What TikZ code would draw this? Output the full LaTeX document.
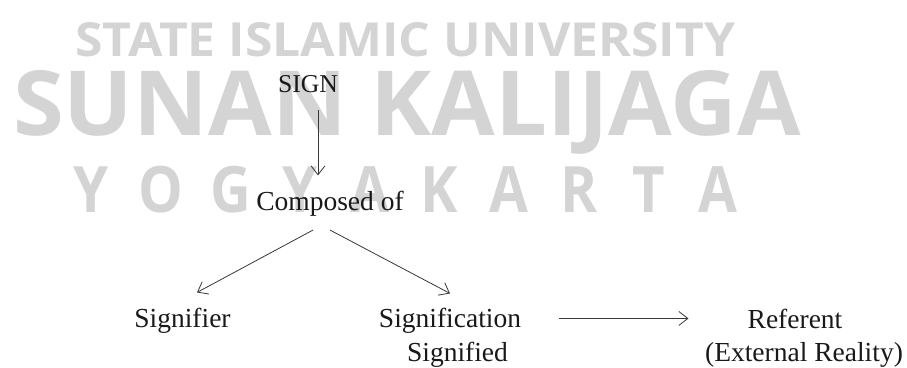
\documentclass[tikz,border=0pt]{standalone}
\usepackage{graphicx}
\usepackage{fontspec}
\setmainfont{Liberation Serif}
\newfontfamily\wmfont{Open Sans}
\usetikzlibrary{arrows.meta}
\definecolor{wm}{RGB}{212,212,212}
\definecolor{ink}{RGB}{25,25,25}
\definecolor{arr}{RGB}{55,55,55}
\begin{document}
\begin{tikzpicture}[x=1pt,y=-1pt,
  lbl/.style={anchor=base, inner sep=0pt, text=ink, font=\fontsize{27.5}{33}\selectfont},
  conn/.style={draw=arr, line width=0.8pt, -{Straight Barb[length=9pt,width=14pt]}},
  wmtext/.style={anchor=base west, inner sep=0pt, text=wm}]
\useasboundingbox (0,0) rectangle (907,367);
% watermark
\node[wmtext] (wm1) at (75,56) {\resizebox{660pt}{34pt}{\wmfont\bfseries STATE ISLAMIC UNIVERSITY}};
\node[wmtext] (wm2) at (13,135) {\resizebox{787pt}{65pt}{\wmfont\bfseries SUNAN KALIJAGA}};
\foreach \l [count=\i from 0] in {Y,O,G,Y,A,K,A,R,T,A}
  \node[wmtext, anchor=base] (wy\i) at (91+\i*69.7,212) {\scalebox{0.88}[1]{\wmfont\bfseries\fontsize{64}{70}\selectfont \l}};
% diagram
\node[lbl, font=\fontsize{25.7}{30}\selectfont] (sign) at (308,92) {SIGN};
\node[lbl] (comp) at (330,210) {Composed of};
\node[lbl] (sfr) at (182.5,327) {Signifier};
\node[lbl] (sfc) at (450,327) {Signification};
\node[lbl] (sfd) at (457.5,361) {Signified};
\node[lbl] (ref) at (795,328) {Referent};
\node[lbl] (ext) at (804,361) {(External Reality)};
\draw[conn] ([xshift=10pt,yshift=-18pt]sign.south) -- ([xshift=-12pt,yshift=15pt]comp.north);
\draw[conn] ([xshift=-17pt,yshift=-14pt]comp.south) -- ([xshift=14.5pt,yshift=15pt]sfr.north);
\draw[conn] ([yshift=-14pt]comp.south) -- ([yshift=14pt]sfc.north);
\path ([xshift=38pt]sfc.east) coordinate (hs);
\draw[conn] (hs |- ref.west) -- ([xshift=-59pt]ref.west);
\end{tikzpicture}
\end{document}
